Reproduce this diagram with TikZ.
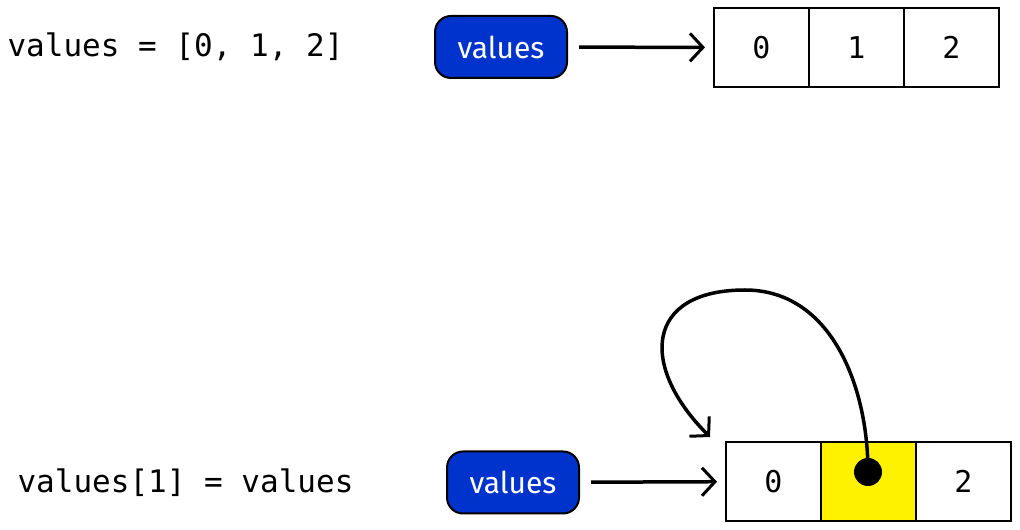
\documentclass[tikz,border=0pt]{standalone}
\usepackage{fontspec}
\setmainfont{Fira Sans}
\setmonofont{DejaVu Sans Mono}
\usetikzlibrary{positioning,arrows.meta}
\definecolor{refblue}{RGB}{0,51,204}

\begin{document}
\begin{tikzpicture}[x=1pt, y=1pt, node distance=95pt,
                    cell/.style={draw, line width=2pt, minimum width=95pt, minimum height=79pt, outer sep=0pt,
                                 font=\ttfamily\fontsize{30}{30}\selectfont},
                    ref node/.style={draw, line width=2pt, rounded corners=16pt, fill=refblue, text=white,
                                     minimum width=132pt, minimum height=62pt, font=\fontsize{30}{30}\selectfont},
                    code/.style={anchor=west, font=\ttfamily\fontsize{31}{31}\selectfont},
                    dot/.style={circle, fill=black, inner sep=0pt, minimum size=28pt},
                    pointer/.style={line width=3.5pt, -{Straight Barb[length=13pt, width=28pt, line width=3pt]}}]

  \useasboundingbox (0,0) rectangle (1020,530);

  % values = [0, 1, 2]
  \node[code] (line a) at (4,483) {values = [0, 1, 2]};
  \node[ref node] (var a) at (501,483) {values};
  \node[cell] (a0) at (761.5,482.5) {0};
  \node[cell] (a1) [right of=a0] {1};
  \node[cell] (a2) [right of=a1] {2};

  % values[1] = values
  \node[code] (line b) at (14,47) {values[1] = values};
  \node[ref node] (var b) at (513,47.5) {values};
  \node[cell] (b0) at (773.5,48.5) {0};
  \node[cell, fill=yellow] (b1) [right of=b0] {};
  \node[cell] (b2) [right of=b1] {2};
  \node[dot] (ptr) at (868,58) {};

  \coordinate (bend) at (745,240);
  \coordinate (ptr end) at (710,93);

  \draw[pointer, shorten <=11pt, shorten >=9pt] (var a) -- (a0);
  \draw[pointer, shorten <=11pt, shorten >=9pt] (var b) -- (b0);
  \draw[pointer] (ptr.center) to[out=90, in=0] (bend)
                 to[out=180, in=135, looseness=1.7] (ptr end);

\end{tikzpicture}
\end{document}
